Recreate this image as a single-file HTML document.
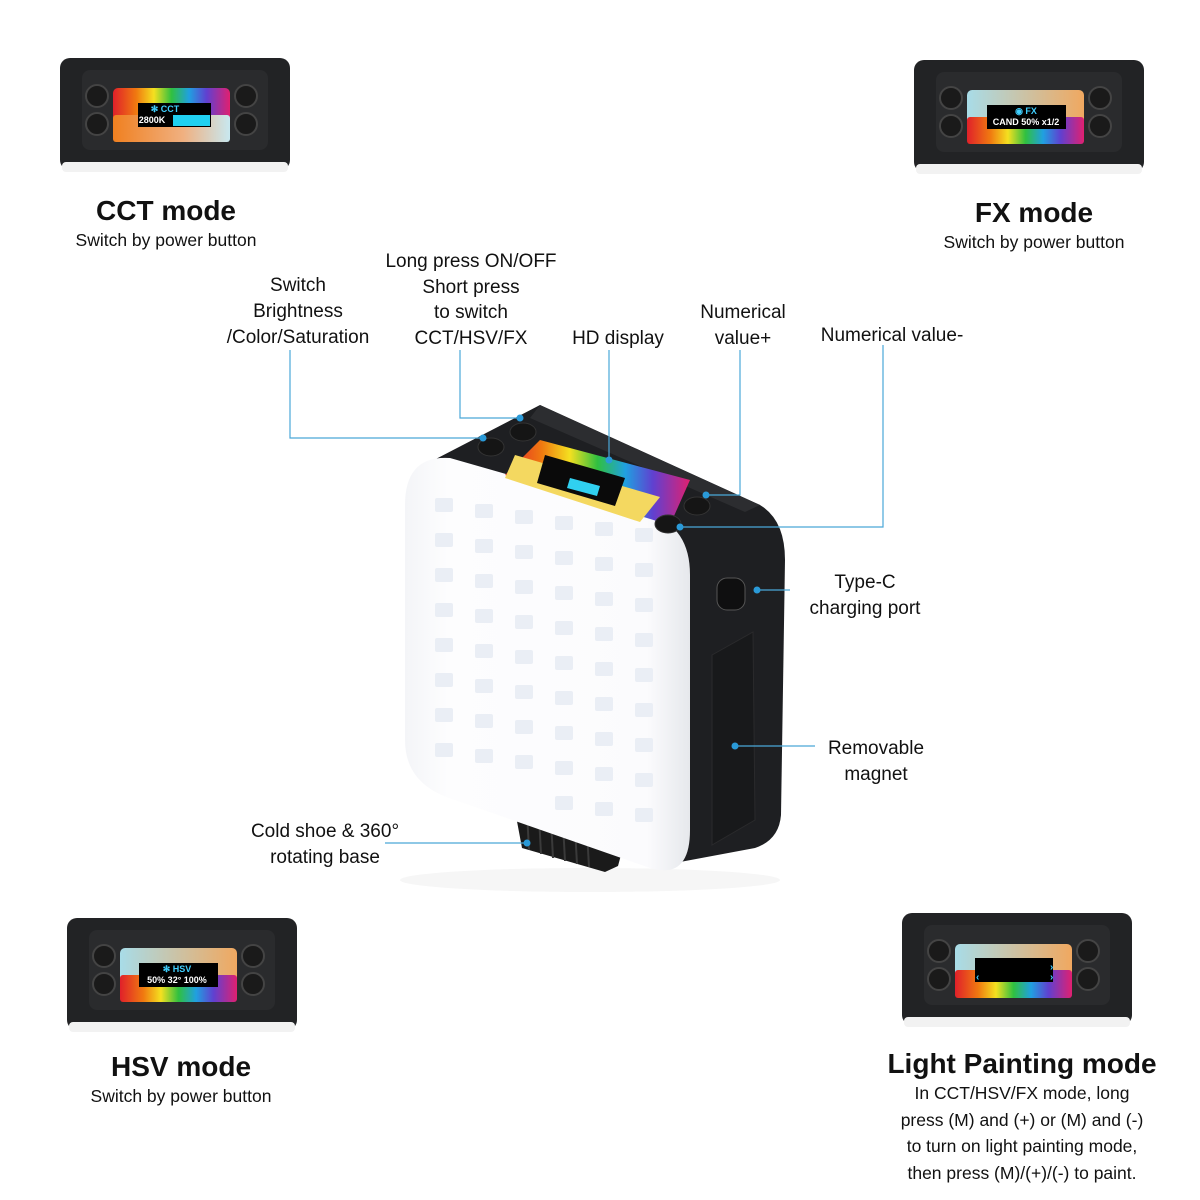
<!DOCTYPE html>
<html><head><meta charset="utf-8"><style>
html,body{margin:0;padding:0;background:#fff;}
svg{display:block;font-family:"Liberation Sans",sans-serif;}
</style></head><body>
<svg width="1200" height="1200" viewBox="0 0 1200 1200" xmlns="http://www.w3.org/2000/svg">
<defs>
<linearGradient id="rb" x1="0" x2="1" y1="0" y2="0">
<stop offset="0" stop-color="#e0202a"/><stop offset="0.2" stop-color="#f07a10"/><stop offset="0.35" stop-color="#f4e020"/><stop offset="0.5" stop-color="#30c040"/><stop offset="0.65" stop-color="#20a0e0"/><stop offset="0.8" stop-color="#6040d0"/><stop offset="1" stop-color="#e02070"/>
</linearGradient>
<linearGradient id="warm" x1="0" x2="1"><stop offset="0" stop-color="#f08020"/><stop offset="0.6" stop-color="#f0b080"/><stop offset="1" stop-color="#c8e8f0"/></linearGradient>
<linearGradient id="cool" x1="0" x2="1"><stop offset="0" stop-color="#a8dce8"/><stop offset="1" stop-color="#f0a860"/></linearGradient>
<linearGradient id="wp" x1="0" x2="1"><stop offset="0" stop-color="#f4f5f8"/><stop offset="0.15" stop-color="#fdfdfe"/><stop offset="0.85" stop-color="#fbfbfd"/><stop offset="1" stop-color="#e6e8ec"/></linearGradient>
<g id="panel">
<rect x="0" y="0" width="230" height="112" rx="10" fill="#222325"/>
<rect x="2" y="104" width="226" height="10" rx="4" fill="#f2f2f2"/>
<rect x="22" y="12" width="186" height="80" rx="8" fill="#2a2b2d"/>
<circle cx="37" cy="38" r="11" fill="#1a1a1a" stroke="#444" stroke-width="2"/>
<circle cx="37" cy="66" r="11" fill="#1a1a1a" stroke="#444" stroke-width="2"/>
<circle cx="186" cy="38" r="11" fill="#1a1a1a" stroke="#444" stroke-width="2"/>
<circle cx="186" cy="66" r="11" fill="#1a1a1a" stroke="#444" stroke-width="2"/>
</g>
</defs>

<use href="#panel" x="60" y="58"/>
<rect x="113" y="88" width="117" height="54" rx="5" fill="url(#rb)"/>
<rect x="113" y="115" width="117" height="27" rx="3" fill="url(#warm)"/>
<rect x="138" y="103" width="73" height="24" fill="#000"/>
<rect x="173" y="115" width="37" height="11" fill="#20d0f0"/>
<text x="165" y="112" font-size="9" fill="#40d0ff" font-weight="bold" text-anchor="middle">✻ CCT</text>
<text x="152" y="123" font-size="9" fill="#fff" font-weight="bold" text-anchor="middle">2800K</text>

<use href="#panel" x="914" y="60"/>
<rect x="967" y="90" width="117" height="54" rx="5" fill="url(#cool)"/>
<rect x="967" y="117" width="117" height="27" rx="3" fill="url(#rb)"/>
<rect x="987" y="105" width="79" height="24" fill="#000"/>
<text x="1026" y="114" font-size="9" fill="#40d0ff" font-weight="bold" text-anchor="middle">◉ FX</text>
<text x="1026" y="125" font-size="9" fill="#fff" font-weight="bold" text-anchor="middle">CAND 50% x1/2</text>

<use href="#panel" x="67" y="918"/>
<rect x="120" y="948" width="117" height="54" rx="5" fill="url(#cool)"/>
<rect x="120" y="975" width="117" height="27" rx="3" fill="url(#rb)"/>
<rect x="139" y="963" width="79" height="24" fill="#000"/>
<text x="177" y="972" font-size="9" fill="#40d0ff" font-weight="bold" text-anchor="middle">✻ HSV</text>
<text x="177" y="983" font-size="9" fill="#fff" font-weight="bold" text-anchor="middle">50%  32°  100%</text>

<use href="#panel" x="902" y="913"/>
<rect x="955" y="944" width="117" height="54" rx="5" fill="url(#cool)"/>
<rect x="955" y="970" width="117" height="28" rx="3" fill="url(#rb)"/>
<rect x="975" y="958" width="78" height="24" fill="#000"/>
<text x="1050" y="970" font-size="10" fill="#40d0ff" font-weight="bold">›</text>
<text x="976" y="980" font-size="10" fill="#40d0ff" font-weight="bold">‹</text>
<text x="1050" y="980" font-size="10" fill="#40d0ff" font-weight="bold">›</text>

<!-- Main device -->
<ellipse cx="590" cy="880" rx="190" ry="12" fill="#f6f6f6"/>
<path d="M430 462 L540 405 L760 505 Q785 520 785 560 L781 815 Q779 840 755 848 L680 862 L450 790 Z" fill="#1e1f22"/>
<path d="M540 405 L760 505 L745 512 L530 418 Z" fill="#2c2d30"/>
<!-- cold shoe knob -->
<path d="M513 800 L625 840 L618 866 L605 872 L522 848 Z" fill="#1a1a1a"/>
<g stroke="#3a3a3a" stroke-width="2"><line x1="527" y1="812" x2="529" y2="850"/><line x1="539" y1="816" x2="541" y2="854"/><line x1="551" y1="820" x2="553" y2="858"/><line x1="563" y1="824" x2="565" y2="861"/><line x1="575" y1="828" x2="577" y2="864"/><line x1="587" y1="832" x2="589" y2="867"/></g>
<!-- front white panel -->
<path d="M450 458 L650 515 Q690 527 690 575 L690 830 Q690 880 650 868 L455 800 Q405 785 405 740 L405 505 Q405 455 450 458 Z" fill="url(#wp)"/>
<g fill="#eaeef5">
<g id="row">
<rect x="435" y="498" width="18" height="14" rx="2"/><rect x="475" y="504" width="18" height="14" rx="2"/><rect x="515" y="510" width="18" height="14" rx="2"/><rect x="555" y="516" width="18" height="14" rx="2"/><rect x="595" y="522" width="18" height="14" rx="2"/><rect x="635" y="528" width="18" height="14" rx="2"/>
</g>
<use href="#row" y="35"/><use href="#row" y="70"/><use href="#row" y="105"/><use href="#row" y="140"/><use href="#row" y="175"/><use href="#row" y="210"/><use href="#row" y="245"/>
<rect x="555" y="796" width="18" height="14" rx="2"/><rect x="595" y="802" width="18" height="14" rx="2"/><rect x="635" y="808" width="18" height="14" rx="2"/>
</g>
<!-- screen on top -->
<path d="M540 440 L690 480 L670 525 L505 475 Z" fill="url(#rb)"/>
<path d="M515 455 L660 497 L640 522 L505 478 Z" fill="#f4d860"/>
<path d="M545 455 L625 478 L615 506 L537 483 Z" fill="#0a0a0a"/>
<path d="M570 478 L600 486 L597 496 L567 488 Z" fill="#30d0f0"/>
<ellipse cx="491" cy="447" rx="13" ry="9" fill="#151515" stroke="#333"/>
<ellipse cx="523" cy="432" rx="13" ry="9" fill="#151515" stroke="#333"/>
<ellipse cx="697" cy="506" rx="13" ry="9" fill="#151515" stroke="#333"/>
<ellipse cx="668" cy="524" rx="13" ry="9" fill="#151515" stroke="#333"/>
<rect x="717" y="578" width="28" height="32" rx="10" fill="#0f0f10" stroke="#555"/>
<path d="M712 655 L753 632 L755 820 L712 845 Z" fill="#18191b" stroke="#2a2a2c"/>

<g stroke="#4aa8d8" stroke-width="1.2" fill="none">
<polyline points="290,350 290,438 483,438"/>
<polyline points="460,350 460,418 520,418"/>
<polyline points="609,350 609,460"/>
<polyline points="740,350 740,495 706,495"/>
<polyline points="883,345 883,527 680,527"/>
<line x1="757" y1="590" x2="790" y2="590"/>
<line x1="735" y1="746" x2="815" y2="746"/>
<line x1="385" y1="843" x2="527" y2="843"/>
</g>
<g fill="#2a9ad8">
<circle cx="483" cy="438" r="3.5"/><circle cx="520" cy="418" r="3.5"/><circle cx="609" cy="460" r="3.5"/><circle cx="706" cy="495" r="3.5"/><circle cx="680" cy="527" r="3.5"/><circle cx="757" cy="590" r="3.5"/><circle cx="735" cy="746" r="3.5"/><circle cx="527" cy="843" r="3.5"/>
</g>

<g fill="#111" font-size="19" text-anchor="middle">
<text x="298" y="291">Switch</text>
<text x="298" y="317">Brightness</text>
<text x="298" y="343">/Color/Saturation</text>
<text x="471" y="267">Long press ON/OFF</text>
<text x="471" y="293">Short press</text>
<text x="471" y="318">to switch</text>
<text x="471" y="344">CCT/HSV/FX</text>
<text x="618" y="344">HD display</text>
<text x="743" y="318">Numerical</text>
<text x="743" y="344">value+</text>
<text x="892" y="341">Numerical value-</text>
<text x="865" y="588">Type-C</text>
<text x="865" y="614">charging port</text>
<text x="876" y="754">Removable</text>
<text x="876" y="780">magnet</text>
<text x="325" y="837">Cold shoe &amp; 360°</text>
<text x="325" y="863">rotating base</text>
</g>
<g fill="#111" font-weight="bold" font-size="28" text-anchor="middle">
<text x="166" y="220">CCT mode</text>
<text x="1034" y="222">FX mode</text>
<text x="181" y="1076">HSV mode</text>
<text x="1022" y="1073">Light Painting mode</text>
</g>
<g fill="#111" font-size="17.5" text-anchor="middle">
<text x="166" y="246">Switch by power button</text>
<text x="1034" y="248">Switch by power button</text>
<text x="181" y="1102">Switch by power button</text>
<text x="1022" y="1099">In CCT/HSV/FX mode, long</text>
<text x="1022" y="1126">press (M) and (+) or (M) and (-)</text>
<text x="1022" y="1152">to turn on light painting mode,</text>
<text x="1022" y="1179">then press (M)/(+)/(-) to paint.</text>
</g>
</svg>
</body></html>
